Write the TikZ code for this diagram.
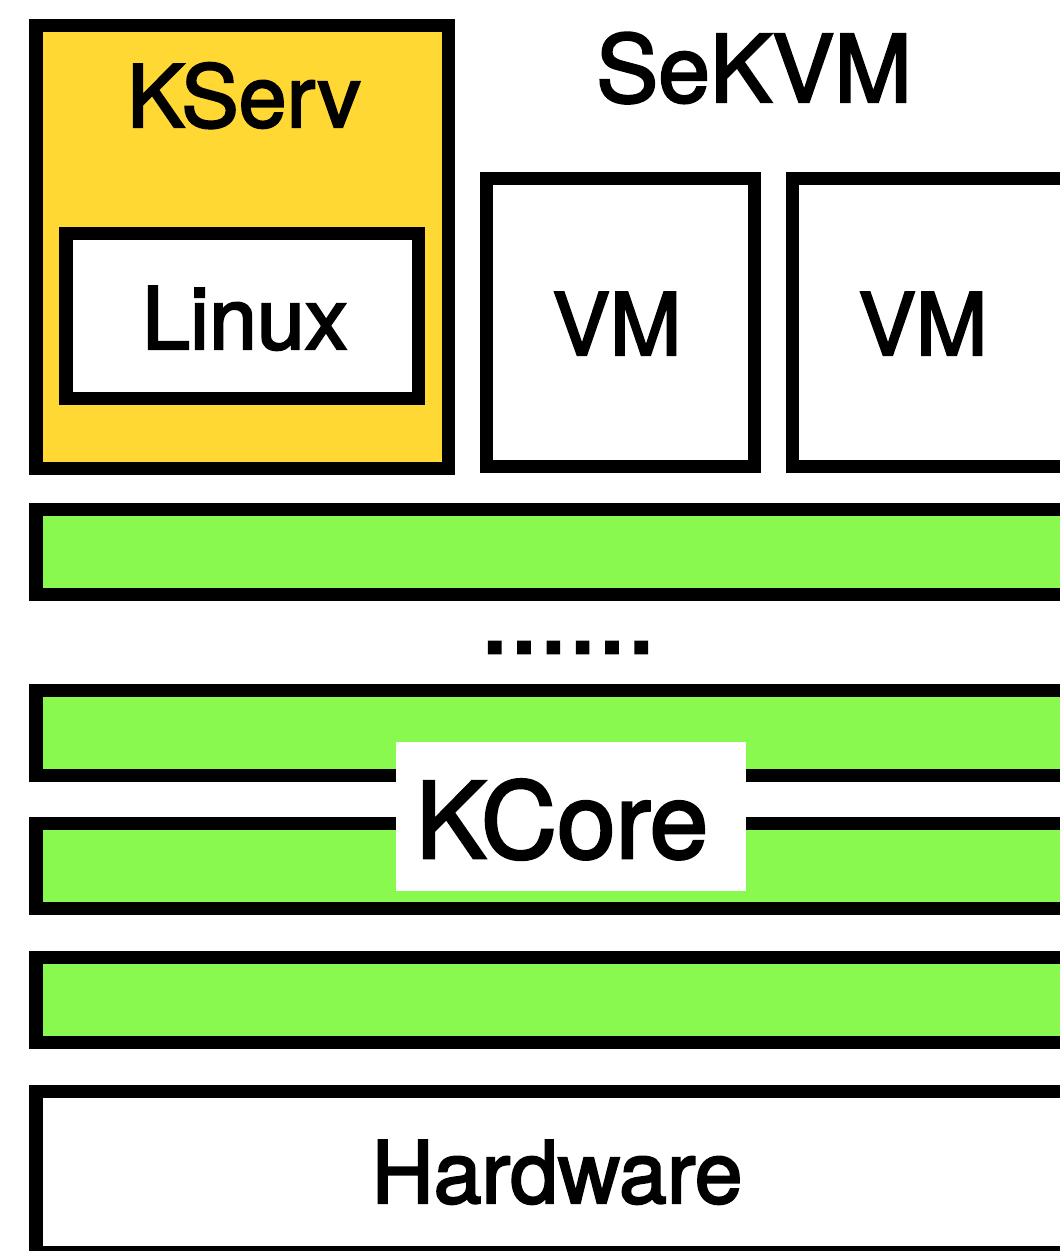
\documentclass[tikz,border=0pt]{standalone}
\usepackage{fontspec}
\setmainfont{TeX Gyre Heros}[FakeBold=2.5]
\usepackage{tikz}
\usetikzlibrary{positioning}
\definecolor{kservyel}{HTML}{FFD833}
\definecolor{kcoregrn}{HTML}{89F94F}
\tikzstyle{lay}=[draw=black,line width=7.4pt,fill=kcoregrn]

\begin{document}
\begin{tikzpicture}[x=0.02cm,y=-0.02cm,
box/.style={draw=black,line width=7.4pt,fill=white},
lbl/.style={anchor=base,inner sep=0pt,font=\fontsize{49}{55}\selectfont},
]
\clip (0,0) rectangle (1060,1251);
% KServ
\draw[box,fill=kservyel] (36,25) rectangle (448,468);
\draw[box] (66,233) rectangle (418,398);
\node[lbl] (kserv) at (244,127) {KServ};
\node[lbl] (linux) at (245,349) {Linux};
% SeKVM
\node[lbl,font=\fontsize{53}{60}\selectfont] (sekvm) at (754,102) {SeKVM};
\draw[box] (486.5,178.5) rectangle (754.5,466.5);
\draw[box] (792.5,178.5) rectangle (1100,466.5);
\node[lbl] (vma) at (617,355) {VM};
\node[lbl] (vmb) at (923,355) {VM};
% KCore layers
\foreach \y in {509.5,690.5,823.5,957.5}
  \draw[lay] (36,\y) rectangle (1100,\y+85);
\node[lbl,font=\fontsize{60}{66}\selectfont] (dots) at (568,653) {......};
\node[fill=white,inner sep=0pt,minimum width=7cm,minimum height=2.98cm] (kcorebg) at (571,816.5) {};
\node[lbl,font=\fontsize{60}{66}\selectfont] (kcore) at (562,858) {KCore};
% Hardware
\draw[box] (36,1091.5) rectangle (1100,1252.5);
\node[lbl] (hw) at (557,1203) {Hardware};
\end{tikzpicture}
\end{document}
